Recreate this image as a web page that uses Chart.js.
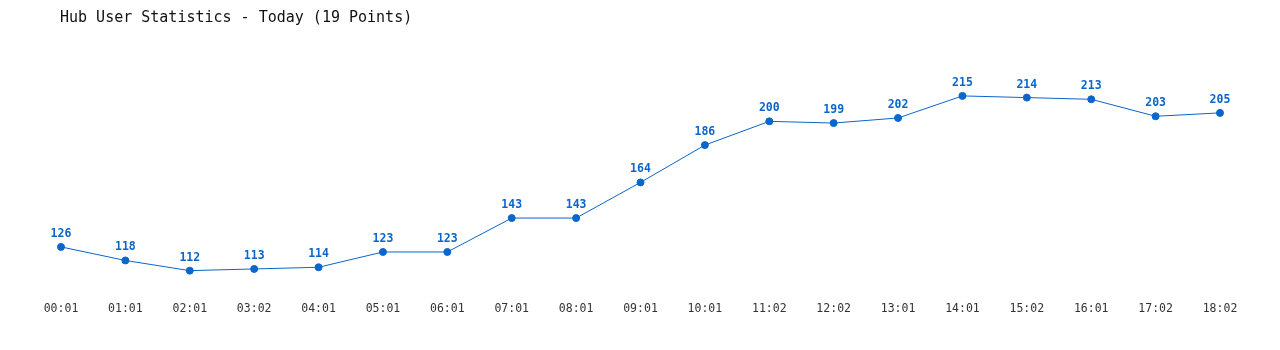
<!DOCTYPE html>
<html>
<head>
<meta charset="utf-8">
<title>Hub User Statistics</title>
<script src="https://cdn.jsdelivr.net/npm/chart.js@4"></script>
<style>
  html, body { margin: 0; padding: 0; background: #fff; }
  #wrap { width: 1280px; height: 350px; }
</style>
</head>
<body>
<div id="wrap"><canvas id="grafico"></canvas></div>
<script>
// dados
const horas = ["00:01", "01:01", "02:01", "03:02", "04:01", "05:01", "06:01", "07:01", "08:01", "09:01",
  "10:01", "11:02", "12:02", "13:01", "14:01", "15:02", "16:01", "17:02", "18:02"];
const usuarios = [126, 118, 112, 113, 114, 123, 123, 143, 143, 164,
  186, 200, 199, 202, 215, 214, 213, 203, 205];
const tituloTexto = "Hub User Statistics - Today (19 Points)";

const azul = "#0a66cc";
const mono = "'DejaVu Sans Mono', 'Liberation Mono', monospace";

// titulo + valores acima dos pontos
const rotulos = {
  id: "rotulos",
  afterDatasetsDraw(chart) {
    const ctx = chart.ctx;
    const meta = chart.getDatasetMeta(0);
    ctx.save();
    ctx.fillStyle = azul;
    ctx.font = "bold 11.5px " + mono;
    ctx.textAlign = "center";
    ctx.textBaseline = "middle";
    meta.data.forEach((p, i) => {
      ctx.fillText(String(usuarios[i]), p.x, p.y - 13);
    });
    ctx.fillStyle = "#111";
    ctx.font = "15px " + mono;
    ctx.textAlign = "left";
    ctx.fillText(tituloTexto, 60, 18);
    ctx.restore();
  },
};

new Chart(document.getElementById("grafico"), {
  type: "line",
  data: {
    labels: horas,
    datasets: [
      {
        data: usuarios,
        borderColor: azul,
        backgroundColor: azul,
        borderWidth: 1,
        pointRadius: 3.5,
        pointHoverRadius: 3.5,
        tension: 0,
      },
    ],
  },
  options: {
    responsive: true,
    maintainAspectRatio: false,
    animation: false,
    layout: { padding: { top: 53.5, left: 61, right: 60, bottom: 0 } },
    plugins: { legend: { display: false }, tooltip: { enabled: false } },
    scales: {
      x: {
        offset: false,
        grid: { display: false, drawTicks: false },
        border: { display: false },
        ticks: {
          color: "#333",
          font: { family: mono, size: 11.5 },
          padding: 11,
          maxRotation: 0,
          autoSkip: false,
        },
        afterFit(scale) { scale.height = 59; },
      },
      y: {
        display: false,
        min: 100,
        max: 240,
      },
    },
  },
  plugins: [rotulos],
});
</script>
</body>
</html>
